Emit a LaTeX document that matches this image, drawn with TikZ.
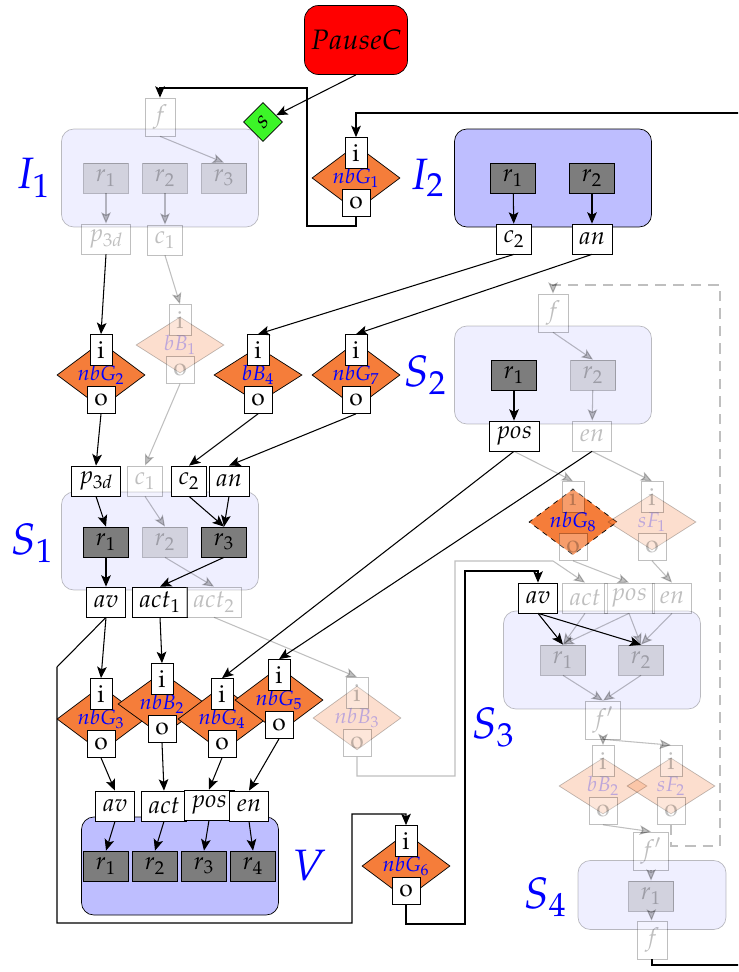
\documentclass[tikz,border=0pt]{standalone}
\usepackage{mathpazo}
\usetikzlibrary{shapes.geometric,arrows.meta,calc}
\definecolor{GateOrange}{RGB}{245,125,58}
\definecolor{RegGray}{RGB}{125,125,125}
\definecolor{GrpFill}{RGB}{190,190,255}
\definecolor{StartGreen}{RGB}{60,245,40}
\tikzset{
  grp/.style={rectangle,rounded corners=7pt,draw=black,fill=GrpFill,
              minimum width=3.94cm,minimum height=1.96cm},
  glabel/.style={text=blue,inner sep=0pt,font=\fontsize{25}{29}\selectfont},
  reg/.style={rectangle,draw=black,fill=RegGray,minimum width=0.9cm,
              minimum height=0.6cm,inner sep=0pt,font=\fontsize{14}{16}\selectfont},
  port/.style={rectangle,draw=black,fill=white,minimum width=0.6cm,
               minimum height=0.6cm,inner xsep=4pt,inner ysep=0pt,
               font=\fontsize{14}{16}\selectfont},
  fport/.style={port,minimum height=0.76cm},
  gate/.style={diamond,draw=black,fill=GateOrange,minimum width=1.76cm,
               minimum height=1.12cm,inner sep=0pt,text=blue,
               font=\fontsize{12}{14}\selectfont},
  ipin/.style={rectangle,draw=black,fill=white,minimum width=0.44cm,
               minimum height=0.62cm,inner sep=0pt,font=\fontsize{14}{16}\selectfont},
  opin/.style={ipin,minimum width=0.56cm,minimum height=0.54cm},
  pausebox/.style={rectangle,rounded corners=8pt,draw=black,fill=red,
                   minimum width=1.98cm,minimum height=1.38cm,
                   font=\fontsize{16}{18}\selectfont},
  startbox/.style={rectangle,rotate=45,draw=black,fill=StartGreen,
                   minimum size=0.55cm,inner sep=0pt,font=\fontsize{14}{16}\selectfont},
  ghost/.style={opacity=0.25},
  wire/.style={-{Stealth[length=6.5pt,width=5.5pt,inset=1.5pt]},semithick},
  gwire/.style={wire,opacity=0.25},
}
% a gate with its i and o pins: name, position, label, gate options, pin options
\newcommand{\gatenode}[5]{%
  \node[gate,#4] (#1) at (#2) {$#3$};
  \node[ipin,#5] (#1-i) at ($(#1)+(0,-25)$) {$\mathrm{i}$};
  \node[opin,#5] (#1-o) at ($(#1)+(0,25)$) {$\mathrm{o}$};
}

\begin{document}
\begin{tikzpicture}[x=0.02cm,y=-0.02cm]
\useasboundingbox (0,0) rectangle (738,972);
\clip (0,0) rectangle (738,972);

% groups
\node[grp,ghost] (I1) at (160,178) {};
\node[grp] (I2) at (553,178) {};
\node[grp,ghost] (S2) at (553,375) {};
\node[grp,ghost] (S1) at (160,541) {};
\node[grp,ghost] (S3) at (602,660) {};
\node[grp,ghost,minimum width=2.96cm,minimum height=1.38cm] (S4) at (652,895) {};
\node[grp] (V) at (180,866) {};
\node[glabel] (I1-lab) at (33,178) {$I_1$};
\node[glabel] (I2-lab) at (427,178) {$I_2$};
\node[glabel] (S2-lab) at (425,375) {$S_2$};
\node[glabel] (S1-lab) at (32,543) {$S_1$};
\node[glabel] (S3-lab) at (493,727) {$S_3$};
\node[glabel] (S4-lab) at (545,897) {$S_4$};
\node[glabel] (V-lab) at (309,866) {$V$};

% start
\node[pausebox] (pause) at (356,40) {$PauseC$};
\node[startbox] (start) at (263,122) {$s$};

% I1
\node[fport,ghost] (i1f) at (160,117) {$f$};
\node[reg,ghost] (i1r1) at (106,178) {$r_1$};
\node[reg,ghost] (i1r2) at (165,178) {$r_2$};
\node[reg,ghost] (i1r3) at (224,178) {$r_3$};
\node[port,ghost] (i1p) at (106,239) {$p_{3d}$};
\node[port,ghost] (i1c) at (165,240) {$c_1$};

% I2
\node[reg] (i2r1) at (513,178) {$r_1$};
\node[reg] (i2r2) at (592,178) {$r_2$};
\node[port] (i2c) at (514,239) {$c_2$};
\node[port] (i2a) at (592,239) {$an$};

\gatenode{g1}{356,178}{nbG_1}{}{}
\gatenode{g2}{101,375}{nbG_2}{}{}
\gatenode{b1}{180,345}{bB_1}{ghost}{ghost}
\gatenode{b4}{258,375}{bB_4}{}{}
\gatenode{g7}{356,375}{nbG_7}{}{}

% S2
\node[fport,ghost] (s2f) at (553,313) {$f$};
\node[reg] (s2r1) at (514,375) {$r_1$};
\node[reg,ghost] (s2r2) at (593,375) {$r_2$};
\node[port] (s2pos) at (514,436) {$pos$};
\node[port,ghost] (s2en) at (592,436) {$en$};

% S1
\node[port] (s1p) at (96,481) {$p_{3d}$};
\node[port,ghost] (s1c1) at (145,481) {$c_1$};
\node[port] (s1c2) at (189,481) {$c_2$};
\node[port] (s1an) at (229,481) {$an$};
\node[reg] (s1r1) at (106,542) {$r_1$};
\node[reg,ghost] (s1r2) at (165,542) {$r_2$};
\node[reg] (s1r3) at (224,542) {$r_3$};
\node[port] (s1av) at (106,602) {$av$};
\node[port] (s1act1) at (160,602) {$act_1$};
\node[port,ghost] (s1act2) at (214,602) {$act_2$};

\gatenode{g8}{573,522}{nbG_8}{dashed}{ghost}
\gatenode{f1}{652,522}{sF_1}{ghost}{ghost}

\gatenode{g3}{101,719}{nbG_3}{}{}
\gatenode{b2}{162,704}{nbB_2}{}{}
\gatenode{g4}{222,719}{nbG_4}{}{}
\gatenode{g5}{279,700}{nbG_5}{}{}
\gatenode{b3}{357,718}{nbB_3}{ghost}{ghost}
\gatenode{g6}{406,866}{nbG_6}{}{}

% V
\node[port] (vav) at (115,806) {$av$};
\node[port] (vact) at (164,806) {$act$};
\node[port] (vpos) at (209,805) {$pos$};
\node[port] (ven) at (249,806) {$en$};
\node[reg] (vr1) at (106,866) {$r_1$};
\node[reg] (vr2) at (155,866) {$r_2$};
\node[reg] (vr3) at (204,866) {$r_3$};
\node[reg] (vr4) at (253,866) {$r_4$};

% S3
\node[port] (s3av) at (538,598) {$av$};
\node[port,ghost] (s3act) at (585,598) {$act$};
\node[port,ghost] (s3pos) at (629,598) {$pos$};
\node[port,ghost] (s3en) at (672,598) {$en$};
\node[reg,ghost] (s3r1) at (563,660) {$r_1$};
\node[reg,ghost] (s3r2) at (641,660) {$r_2$};
\node[fport,ghost] (s3fp) at (603,720) {$f'$};

\gatenode{bb2}{603,786}{bB_2}{ghost}{ghost}
\gatenode{sf2}{671,786}{sF_2}{ghost}{ghost}

% S4
\node[fport,ghost] (s4fp) at (651,851) {$f'$};
\node[reg,ghost] (s4r1) at (651,896) {$r_1$};
\node[fport,ghost] (s4f) at (652,940) {$f$};

% wires
\draw[wire] (pause.south) -- (start);
\draw[wire] (g1-o.south) |- (307,226) -- (307,88) -| (i1f.north);
\draw[wire] (s4f.south) |- (760,965) -- (760,113) -| (g1-i.north);

\draw[gwire] (i1f.south) -- (i1r3.north);
\draw[gwire] (i1r1) -- (i1p);
\draw[gwire] (i1r2) -- (i1c);
\draw[wire] (i1p.south) -- (g2-i.north);
\draw[gwire] (i1c.south) -- (b1-i.north);

\draw[wire] (i2r1) -- (i2c);
\draw[wire] (i2r2) -- (i2a);
\draw[wire] (i2c.south) -- (b4-i.north);
\draw[wire] (i2a.south) -- (g7-i.north);

\draw[wire] (g2-o.south) -- (s1p.north);
\draw[gwire] (b1-o.south) -- (s1c1.north);
\draw[wire] (b4-o.south) -- (s1c2.north);
\draw[wire] (g7-o.south) -- (s1an.north);

\draw[wire] (s1p.south) -- (s1r1.north);
\draw[gwire] (s1c1.south) -- (s1r2.north);
\draw[wire] (s1c2.south) -- (s1r3.north);
\draw[wire] (s1an.south) -- (s1r3.north);
\draw[wire] (s1r1) -- (s1av);
\draw[wire] (s1r3.south) -- (s1act1.north);
\draw[gwire] (s1r2.south) -- (s1act2.north);

\draw[wire] (s1av.south) -- (g3-i.north);
\draw[wire] (s1act1.south) -- (b2-i.north);
\draw[gwire] (s1act2.south) -- (b3-i.north);
\draw[wire] (s2pos.south) -- (g4-i.north);
\draw[wire] (s2en.south) -- (g5-i.north);
\draw[wire] (s1av.south) -- (57,667) -- (57,923) -- (352,923) -- (352,814) -| (g6-i.north);

\draw[wire] (g3-o.south) -- (vav.north);
\draw[wire] (b2-o.south) -- (vact.north);
\draw[wire] (g4-o.south) -- (vpos.north);
\draw[wire] (g5-o.south) -- (ven.north);
\draw[wire] (vav.south) -- (vr1.north);
\draw[wire] (vact.south) -- (vr2.north);
\draw[wire] (vpos.south) -- (vr3.north);
\draw[wire] (ven.south) -- (vr4.north);

\draw[wire] (g6-o.south) |- (465,924) -- (465,571) -| (s3av.north);
\draw[gwire] (b3-o.south) |- (455,776) -- (455,561) -- (553,561) -- (s3act.north);

\draw[gwire] (s2f.south) -- (s2r2.north);
\draw[wire] (s2r1) -- (s2pos);
\draw[gwire] (s2r2) -- (s2en);
\draw[gwire] (s2pos.south) -- (g8-i.north);
\draw[gwire] (s2en.south) -- (f1-i.north);
\draw[gwire] (g8-o.south) -- (s3pos.north);
\draw[gwire] (f1-o.south) -- (s3en.north);

\draw[wire] (s3av.south) -- (s3r1.north);
\draw[wire] (s3av.south) -- (s3r2.north);
\draw[gwire] (s3act.south) -- (s3r1.north);
\draw[gwire] (s3pos.south) -- (s3r1.north);
\draw[gwire] (s3pos.south) -- (s3r2.north);
\draw[gwire] (s3en.south) -- (s3r2.north);
\draw[gwire] (s3r1.south) -- (s3fp.north);
\draw[gwire] (s3r2.south) -- (s3fp.north);
\draw[gwire] (s3fp.south) -- (bb2-i.north);
\draw[gwire] (s3fp.south) -- (sf2-i.north);
\draw[gwire] (bb2-o.south) -- (s4fp.north);
\draw[gwire,dash pattern=on 6pt off 4pt] (sf2-o.south) |- (720,846) -- (720,285) -| (s2f.north);

\draw[gwire] (s4fp) -- (s4r1);
\draw[gwire] (s4r1) -- (s4f);
\end{tikzpicture}
\end{document}
